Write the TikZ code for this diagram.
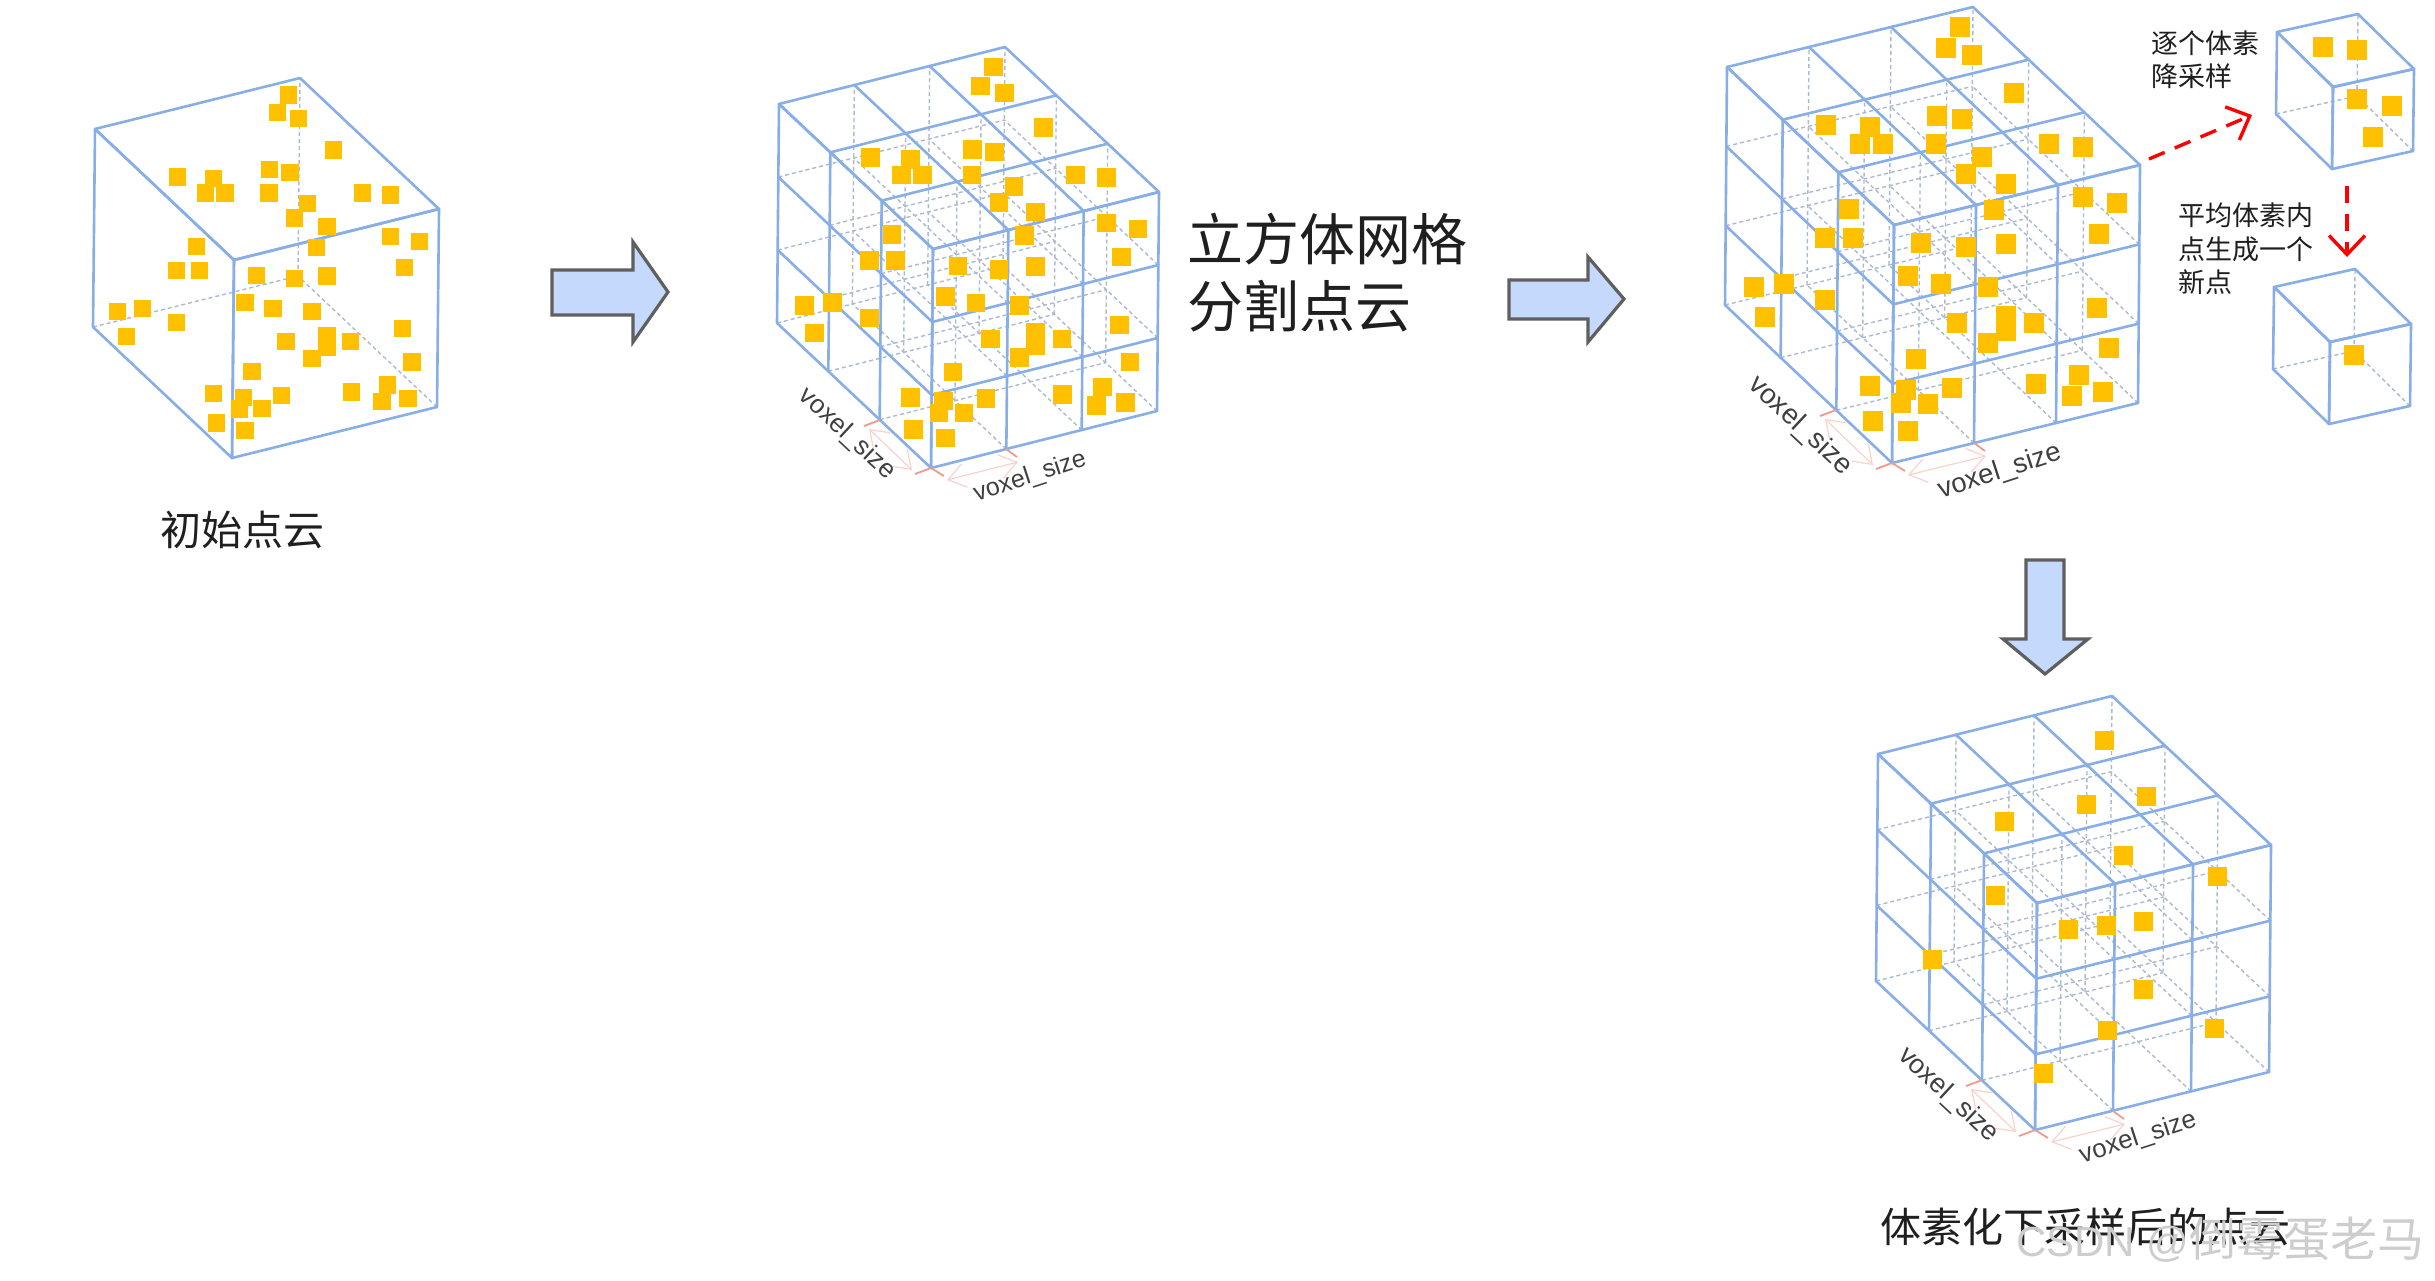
\documentclass[tikz,border=0pt]{standalone}
\usepackage{fontspec}
\setmainfont{Liberation Sans}
\newfontfamily\cjk{Noto Sans CJK SC}
\usetikzlibrary{arrows.meta,calc}
\definecolor{edgeblue}{HTML}{88AEE8}
\definecolor{dashblue}{HTML}{ABB9D1}
\definecolor{ptyellow}{HTML}{FFC000}
\definecolor{blockfill}{HTML}{C5D9FC}
\definecolor{blockedge}{HTML}{5F5F5F}
\definecolor{tickred}{HTML}{F09A8C}
\definecolor{paleline}{HTML}{F9D2CC}
\definecolor{wmgray}{HTML}{CDCDCD}
\tikzset{
  solidedge/.style={draw=edgeblue,line width=2.6pt,line cap=round},
  dashedge/.style={draw=dashblue,line width=1.4pt,dash pattern=on 4pt off 3pt},
  blockarrow/.style={fill=blockfill,draw=blockedge,line width=3.2pt,miter limit=10},
  redarrow/.style={draw=red,line width=3.4pt,dash pattern=on 17pt off 11pt,-{Straight Barb[length=19pt,width=36pt,line width=3.4pt]}},
  dimtick/.style={draw=tickred,line width=1.8pt},
  dimarrow/.style={draw=paleline,line width=1.2pt,{Straight Barb[length=17pt,width=24pt]}-{Straight Barb[length=17pt,width=24pt]}},
  label/.style={inner sep=0pt,text=black!88,font=\cjk},
  voxlabel/.style={inner sep=0pt,text=black!75},
}
% \cube{n}{Fx}{Fy}{Ax}{Ay}{Bx}{By}{Cx}{Cy}
\newcommand{\cube}[9]{%
  \begin{scope}[shift={(#2,#3)}]
    \pgfmathtruncatemacro{\nn}{#1}
    \def\ax{(#4)/\nn}\def\ay{(#5)/\nn}\def\bx{(#6)/\nn}\def\by{(#7)/\nn}\def\cx{(#8)/\nn}\def\cy{(#9)/\nn}
    \foreach \i in {1,...,\nn}{\foreach \j in {1,...,\nn}{
      \pgfmathtruncatemacro{\skipv}{and(\i==2,\j==1)}
      \ifnum\skipv=0
        \draw[dashedge] ({\i*\ax+\j*\bx},{\i*\ay+\j*\by}) -- ++({\nn*\cx},{\nn*\cy});
      \fi
    }}
    \pgfmathtruncatemacro{\nm}{\nn-1}
    \foreach \k in {0,...,\nm}{\foreach \j in {1,...,\nn}{
      \draw[dashedge] ({\j*\bx+\k*\cx},{\j*\by+\k*\cy}) -- ++({\nn*\ax},{\nn*\ay});
    }
    \foreach \i in {1,...,\nn}{
      \draw[dashedge] ({\i*\ax+\k*\cx},{\i*\ay+\k*\cy}) -- ++({\nn*\bx},{\nn*\by});
    }}
    \foreach \t in {0,...,\nn}{
      \draw[solidedge] ({\t*\bx+\nn*\cx},{\t*\by+\nn*\cy}) -- ++({\nn*\ax},{\nn*\ay});
      \draw[solidedge] ({\t*\ax+\nn*\cx},{\t*\ay+\nn*\cy}) -- ++({\nn*\bx},{\nn*\by});
      \draw[solidedge] ({\t*\ax},{\t*\ay}) -- ++({\nn*\cx},{\nn*\cy});
      \draw[solidedge] ({\t*\bx},{\t*\by}) -- ++({\nn*\cx},{\nn*\cy});
      \draw[solidedge] ({\t*\cx},{\t*\cy}) -- ++({\nn*\ax},{\nn*\ay});
      \draw[solidedge] ({\t*\cx},{\t*\cy}) -- ++({\nn*\bx},{\nn*\by});
    }
  \end{scope}}
% \points{x0}{y0}{size}{list of zoom coordinates (3x)}
\newcommand{\points}[4]{%
  \foreach \x/\y in {#4}{
    \fill[ptyellow] ({#1+\x/3-(#3)/2},{#2+\y/3-(#3)/2}) rectangle ++(#3,#3);
  }}
% \dims{name}{Fx}{Fy}{ax}{ay}{bx}{by}
\newcommand{\dims}[7]{%
  \coordinate (#1F) at (#2,#3);
  \coordinate (#1P) at ({#2+(#4)},{#3+(#5)});
  \coordinate (#1Q) at ({#2+(#6)},{#3+(#7)});
  \draw[dimtick] (#1F) -- ++(-16,6);
  \draw[dimtick] (#1Q) -- ++(-16,6);
  \draw[dimtick] (#1F) -- ++(13,8);
  \draw[dimtick] (#1P) -- ++(11,8);
  \draw[dimarrow] ($(#1F)+(-19,2)$) -- ($(#1Q)+(-11,9)$);
  \draw[dimarrow] ($(#1F)+(16,12)$) -- ($(#1P)+(12,13)$);
}
\begin{document}
\begin{tikzpicture}[x=1pt,y=-1pt]
\useasboundingbox[fill=white] (0,0) rectangle (2435,1280);

% cube 1
\cube{1}{232}{458}{205}{-51}{-139}{-131}{2}{-198}
\points{40}{50}{17.5}{746/135,712/188,776/206,881/300,412/381,521/386,496/429,555/429,689/358,750/367,687/429,802/461,763/504,861/530,968/429,1052/435,830/593,1052/560,1139/575,1093/652,470/589,409/661,479/661,649/676,763/686,861/678,615/758,699/776,816/784,233/784,307/776,409/817,260/859,738/874,861/858,861/893,932/874,816/925,1088/836,1116/936,636/964,520/1031,611/1043,598/1077,666/1076,725/1036,935/1026,1042/1005,1026/1055,1104/1046,530/1119,615/1142}
\node[label,font=\cjk\fontsize{41}{41}\selectfont] (title1) at (242,530) {初始点云};

% cube 2
\cube{3}{931}{468}{226}{-57}{-154}{-145}{2}{-219}
\points{760}{40}{18.5}{700/81,662/138,734/159,850/263,331/352,451/358,424/405,488/405,637/328,704/336,636/405,762/440,717/488,826/516,946/405,1039/412,794/586,1039/549,1134/567,1084/651,396/583,328/662,406/662,594/678,717/689,826/679,557/769,648/789,778/797,133/797,217/788,328/834,163/879,692/897,826/878,826/918,906/897,778/953,1078/855,1110/966,579/996,451/1072,550/1083,537/1119,612/1119,678/1076,908/1064,1028/1041,1010/1097,1096/1088,461/1168,557/1194}
\dims{d}{931}{468}{75}{-19}{-51}{-48}
\node[voxlabel,font=\fontsize{26}{26}\selectfont,rotate=-43] (v2a) at (847,434) {voxel\_size};
\node[voxlabel,font=\fontsize{25}{25}\selectfont,rotate=18] (v2b) at (1030,477) {voxel\_size};

% cube 3
\cube{3}{1892}{463}{246}{-60}{-167}{-158}{2}{-238}
\points{1700}{0}{20}{780/81,739/143,816/165,942/278,378/376,509/382,479/433,549/433,711/349,785/358,709/433,847/471,799/523,917/553,1048/433,1149/441,881/630,1149/590,1252/608,1197/701,448/627,374/713,459/713,664/730,799/742,917/731,623/829,723/851,865/860,162/860,252/851,374/900,194/950,771/968,917/948,917/992,1003/968,865/1030,1192/923,1226/1043,648/1077,509/1159,617/1170,603/1210,684/1211,755/1164,1007/1151,1136/1125,1117/1187,1210/1176,519/1263,623/1292}
\dims{e}{1892}{463}{82}{-20}{-56}{-53}
\node[voxlabel,font=\fontsize{28}{28}\selectfont,rotate=-43] (v3a) at (1800,426) {voxel\_size};
\node[voxlabel,font=\fontsize{27.5}{28}\selectfont,rotate=18] (v3b) at (2000,472) {voxel\_size};

% cube 4
\cube{3}{2035}{1130}{234}{-58}{-159}{-149}{2}{-227}
\points{1850}{680}{19}{763/182,889/350,710/374,464/423,821/527,1101/589,436/645,655/749,769/735,881/723,248/837,881/929,771/1052,1093/1044,581/1180}
\dims{f}{2035}{1130}{78}{-19}{-53}{-50}
\node[voxlabel,font=\fontsize{27}{27}\selectfont,rotate=-43] (v4a) at (1948,1095) {voxel\_size};
\node[voxlabel,font=\fontsize{26}{26}\selectfont,rotate=18] (v4b) at (2138,1138) {voxel\_size};

% small cubes
\cube{1}{2332}{169}{81}{-18}{-56}{-55}{1}{-82}
\points{2130}{0}{20}{580/142,682/151,682/298,786/318,730/410}
\cube{1}{2329}{424}{81}{-18}{-56}{-55}{1}{-82}
\points{2130}{0}{20}{672/1065}

% block arrows
\draw[blockarrow] (552,270) -- (633,270) -- (633,242) -- (668,292) -- (633,342) -- (633,315) -- (552,315) -- cycle;
\draw[blockarrow] (1509,280) -- (1588,280) -- (1588,257) -- (1624,299) -- (1588,342) -- (1588,319) -- (1509,319) -- cycle;
\draw[blockarrow] (2026,560) -- (2064,560) -- (2064,639) -- (2088,639) -- (2045,674) -- (2003,639) -- (2026,639) -- cycle;

% red arrows
\coordinate (r1s) at (2149,159);
\coordinate (r1e) at (2252,115);
\coordinate (r2s) at (2347,186);
\coordinate (r2e) at (2347,257);
\draw[redarrow] (r1s) -- (r1e);
\draw[redarrow] (r2s) -- (r2e);

% texts
\node[label,font=\cjk\fontsize{56}{67}\selectfont,align=left,anchor=north west] (title2) at (1187,213) {立方体网格\\分割点云};
\node[label,font=\cjk\fontsize{27}{32.5}\selectfont,align=left,anchor=north west] (note1) at (2151,31) {逐个体素\\降采样};
\node[label,font=\cjk\fontsize{27}{33.5}\selectfont,align=left,anchor=north west] (note2) at (2178,203) {平均体素内\\点生成一个\\新点};
\node[label,font=\cjk\fontsize{41}{46}\selectfont,anchor=west] (title3) at (1880,1227) {体素化下采样后的点云};
\node[inner sep=0pt,anchor=west,text=wmgray,font=\cjk\fontsize{47}{47}\selectfont] (wm) at (2016,1240) {{\setmainfont{Liberation Sans}\fontspec{Liberation Sans}\fontsize{42}{47}\selectfont CSDN @}倒霉蛋老马};
\end{tikzpicture}
\end{document}
